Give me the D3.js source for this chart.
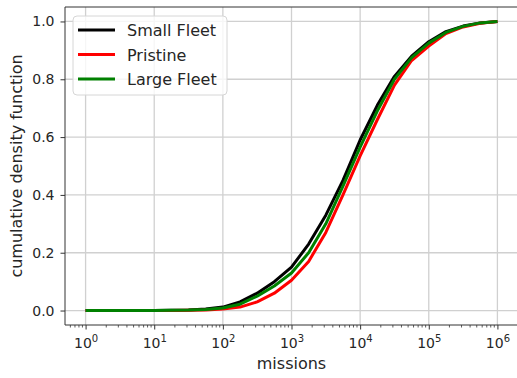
<!DOCTYPE html>
<html>
<head>
<meta charset="utf-8">
<script src="https://cdn.jsdelivr.net/npm/d3@7"></script>
<style>
  body { margin: 0; background: #fff; }
  text { font-family: "DejaVu Sans", sans-serif; fill: #262626; }
</style>
</head>
<body>
<div id="chart-area"></div>
<script>
// sample points, in decades (missions = 10^x)
const decades = [0, 0.25, 0.5, 0.75, 1, 1.25, 1.5, 1.75, 2, 2.25, 2.5, 2.75, 3,
  3.25, 3.5, 3.75, 4, 4.25, 4.5, 4.75, 5, 5.25, 5.5, 5.75, 6];
const smallFleet = [0, 0, 0, 0, 0.0005, 0.001, 0.002, 0.005, 0.012, 0.03, 0.06, 0.1, 0.15,
  0.23, 0.33, 0.45, 0.59, 0.71, 0.81, 0.88, 0.93, 0.965, 0.984, 0.995, 1.0];
const pristine = [0, 0, 0, 0, 0.0002, 0.0004, 0.001, 0.002, 0.005, 0.012, 0.03, 0.06, 0.105,
  0.17, 0.27, 0.4, 0.535, 0.66, 0.78, 0.865, 0.915, 0.958, 0.981, 0.994, 1.0];
const largeFleet = [0, 0, 0, 0, 0.0003, 0.0007, 0.0015, 0.004, 0.009, 0.022, 0.05, 0.085, 0.13,
  0.2, 0.3, 0.43, 0.565, 0.69, 0.8, 0.875, 0.925, 0.962, 0.983, 0.995, 1.0];
const seriesNames = ['Small Fleet', 'Pristine', 'Large Fleet'];
const seriesColors = ['#000000', '#ff0000', '#008000'];
const xTicks = [1, 10, 100, 1000, 10000, 100000, 1000000];
const yTicks = [0, 0.2, 0.4, 0.6, 0.8, 1.0];

const margin = { top: 7, right: 0, bottom: 53, left: 65 };
const width = 517 - margin.left - margin.right;
const height = 378 - margin.top - margin.bottom;

const x = d3.scaleLog()
  .domain([Math.pow(10, -0.3), Math.pow(10, 6.3)])
  .range([0, 453]);
const y = d3.scaleLinear()
  .domain([-0.05, 1.05])
  .range([height, 0]);

const svg = d3.select("#chart-area")
  .append("svg")
    .attr("width", 517)
    .attr("height", 378);

const chart = svg.append('g')
  .attr("transform", "translate(" + margin.left + "," + margin.top + ")");

// grid
chart.append('g')
  .selectAll('line.vg')
  .data(xTicks)
  .join('line')
  .attr('x1', d => x(d)).attr('x2', d => x(d))
  .attr('y1', 0).attr('y2', height)
  .attr('stroke', '#d0d0d0').attr('stroke-width', 1.3);
chart.append('g')
  .selectAll('line.hg')
  .data(yTicks)
  .join('line')
  .attr('x1', 0).attr('x2', 453)
  .attr('y1', d => y(d)).attr('y2', d => y(d))
  .attr('stroke', '#d0d0d0').attr('stroke-width', 1.3);

// minor ticks on the log axis
const minor = [];
for (let e = -1; e <= 6; e++) {
  for (let m = 2; m <= 9; m++) {
    const v = m * Math.pow(10, e);
    if (v >= x.domain()[0] && v <= x.domain()[1]) minor.push(v);
  }
}
chart.append('g')
  .attr("transform", "translate(0," + height + ")")
  .selectAll('line')
  .data(minor)
  .join('line')
  .attr('x1', d => x(d)).attr('x2', d => x(d))
  .attr('y1', 0).attr('y2', 2.5)
  .attr('stroke', '#333').attr('stroke-width', 0.8);

// x axis
const xAxis = chart.append("g")
  .attr("transform", "translate(0," + height + ")")
  .call(d3.axisBottom(x).tickValues(xTicks).tickSize(4.5).tickPadding(5).tickFormat(''));
xAxis.select('.domain').remove();
xAxis.selectAll('.tick line').attr('stroke', '#333');
xAxis.selectAll('.tick').append('text')
  .attr('y', 23)
  .attr('text-anchor', 'middle')
  .style('font-size', '14px')
  .each(function (d) {
    const t = d3.select(this);
    t.append('tspan').text('10');
    t.append('tspan').attr('dy', -6).style('font-size', '10px')
      .text(Math.round(Math.log10(d)));
  });

// y axis
const yAxis = chart.append("g")
  .call(d3.axisLeft(y).tickValues(yTicks).tickSize(4.5).tickPadding(6).tickFormat(d3.format('.1f')));
yAxis.select('.domain').remove();
yAxis.selectAll('.tick line').attr('stroke', '#333');
yAxis.selectAll('.tick text').style('font-size', '14px').style('font-family', '"DejaVu Sans", sans-serif').attr('fill', '#262626');

// spines
chart.append('path')
  .attr('d', 'M0,' + height + 'V0H' + (width + 5))
  .attr('fill', 'none').attr('stroke', '#333').attr('stroke-width', 1);
chart.append('line')
  .attr('x1', 0).attr('x2', width + 5)
  .attr('y1', height).attr('y2', height)
  .attr('stroke', '#333').attr('stroke-width', 1);

// curves
const line = d3.line()
  .x(d => x(Math.pow(10, d[0])))
  .y(d => y(d[1]));
[smallFleet, pristine, largeFleet].forEach((vals, i) => {
  chart.append('path')
    .datum(decades.map((dd, j) => [dd, vals[j]]))
    .attr('d', line)
    .attr('fill', 'none')
    .attr('stroke', seriesColors[i])
    .attr('stroke-width', 3)
    .attr('stroke-linejoin', 'round');
});

// axis labels
svg.append('text')
  .attr('x', margin.left + 453 / 2)
  .attr('y', 369)
  .attr('text-anchor', 'middle')
  .style('font-size', '16px')
  .text('missions');
svg.append('text')
  .attr('transform', 'translate(22,' + (margin.top + height / 2) + ') rotate(-90)')
  .attr('text-anchor', 'middle')
  .style('font-size', '16px')
  .text('cumulative density function');

// legend
const legend = svg.append('g');
legend.append('rect')
  .attr('x', 73).attr('y', 16)
  .attr('width', 154).attr('height', 79)
  .attr('rx', 4)
  .attr('fill', 'white').attr('fill-opacity', 0.8)
  .attr('stroke', '#d6d6d6');
seriesNames.forEach((name, i) => {
  const cy = 30 + i * 24.5;
  legend.append('line')
    .attr('x1', 78).attr('x2', 115)
    .attr('y1', cy).attr('y2', cy)
    .attr('stroke', seriesColors[i]).attr('stroke-width', 3);
  legend.append('text')
    .attr('x', 127).attr('y', cy + 6)
    .style('font-size', '16px')
    .text(name);
});
</script>
</body>
</html>
